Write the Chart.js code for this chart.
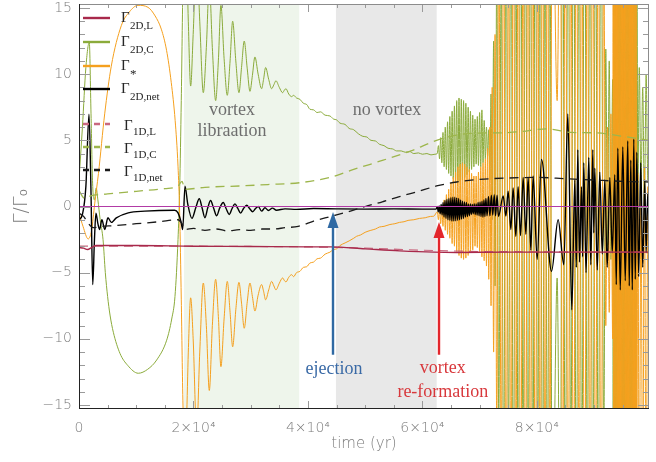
<!DOCTYPE html>
<html><head><meta charset="utf-8">
<script src="https://cdn.jsdelivr.net/npm/chart.js@4.4.1/dist/chart.umd.min.js"></script>
<style>html,body{margin:0;padding:0;background:#fff;}#wrap{width:656px;height:462px;}</style>
</head><body><div id="wrap"><canvas id="c" width="656" height="462"></canvas></div>
<script>
// ---------------- data (time in yr, torque in units of Gamma_0) ----------------
const xTickValues = [0, 20000, 40000, 60000, 80000];
const xTickLabels = ['0', '2×10⁴', '4×10⁴', '6×10⁴', '8×10⁴'];
const yTickValues = [-15, -10, -5, 0, 5, 10, 15];
const yTickLabels = ['−15', '−10', '−5', '0', '5', '10', '15'];

const legendSubs = ['2D,L', '2D,C', '*', '2D,net', '1D,L', '1D,C', '1D,net'];

const bandStart = [18340, 44900];
const bandEnd = [38480, 62500];
const bandText = [['vortex', 'libraation'], ['no vortex']];
const bandTextT = [26720, 53800];
const bandTextY = [[7.3, 5.65], [7.3]];

const arrowT = [44310, 62880];
const arrowBase = [-11.2, -11.2];
const arrowTip = [-0.42, -1.17];
const arrowText = [['ejection'], ['vortex', 're-formation']];
const arrowTextT = [44540, 63580];
const arrowTextY = [[-12.3], [-12.25, -14.0]];

const zeroT = [0, 99600];
const zeroV = [0, 0];

// Gamma_2D,L
const tL2D = [0, 800, 1500, 2200, 3000, 10000, 20000, 30000, 40000, 44000, 50000, 56000, 62000, 66000, 75000, 85000, 99600];
const vL2D = [-3.1, -3.15, -3.25, -3.1, -2.95, -2.95, -3.0, -3.02, -3.05, -3.05, -3.2, -3.35, -3.45, -3.47, -3.45, -3.45, -3.45];
// Gamma_1D,L
const tL1D = [0, 10000, 20000, 30000, 40000, 50000, 60000, 70000, 80000, 90000, 99600];
const vL1D = [-3.0, -3.0, -3.0, -3.02, -3.05, -3.15, -3.3, -3.4, -3.42, -3.43, -3.45];
// Gamma_1D,C
const tC1D = [0, 1000, 1920, 5000, 10000, 15000, 17300, 18000, 18500, 22000, 28000, 33000, 38600, 43850, 48000, 53150, 58000, 62480, 66000, 70000, 73000, 77000, 81700, 86000, 90400, 95000, 99600];
const vC1D = [1.2, 0.6, 0.78, 0.95, 1.15, 1.35, 1.55, 1.9, 1.3, 1.45, 1.55, 1.66, 1.8, 2.2, 2.8, 3.5, 4.2, 5.0, 5.4, 5.55, 5.56, 5.65, 5.87, 5.6, 5.56, 5.3, 5.0];
// Gamma_1D,net
const tN1D = [0, 800, 1500, 2500, 4000, 6000, 10000, 14000, 17300, 18000, 18520, 20000, 22000, 24000, 26000, 28000, 30000, 32000, 34000, 36000, 38300, 41000, 44000, 47000, 50000, 53000, 56000, 59000, 62480, 66000, 70000, 75000, 80000, 85000, 90000, 95000, 99600];
const vN1D = [-0.5, -0.75, -1.2, -1.6, -1.5, -1.45, -1.3, -1.15, -1.0, -1.3, -1.74, -1.65, -1.8, -1.7, -1.85, -1.75, -1.8, -1.7, -1.7, -1.6, -1.5, -1.1, -0.75, -0.4, 0.0, 0.35, 0.75, 1.1, 1.55, 1.85, 2.05, 2.15, 2.2, 2.1, 2.0, 1.9, 1.85];

// Gamma_2D,C (before the oscillating phase)
const tC2D = [0, 600, 1200, 1800, 2100, 2400, 2700, 3000, 3300, 3700, 4200, 4600, 5000, 5420, 6000, 7160, 8500, 10360, 12000, 13570, 15320, 16200, 16770, 17300, 17600, 17870, 18170, 18450, 18800, 19100, 19510, 19950, 20560, 21100, 21720, 22250, 22770, 23300, 23880, 24350, 24800, 25350, 25910, 26400, 26850, 27400, 27950, 28400, 28870, 29400, 29870, 30300, 30740, 31300, 31910, 32250, 32610, 33150, 33660, 34050, 34410, 35000, 35580, 35900, 36160, 36650, 37150, 37500, 38000, 38600, 39200, 39800, 40350, 41000, 41600, 42200, 43000, 43850, 44500, 45000, 45600, 46500, 47200, 48000, 48800, 49600, 50300, 51000, 51800, 52500, 53300, 54000, 54800, 55500, 56300, 57000, 57800, 58500, 59300, 60000, 60800, 61500, 62200, 62600];
const vC2D = [2.0, 6.0, 10.5, 12.4, 7.0, 1.5, 0.5, 1.4, 0.5, -1.0, -2.5, -5.0, -6.8, -8.2, -9.5, -11.1, -12.0, -12.6, -12.3, -11.6, -10.1, -8.5, -6.8, -2.5, 1.5, 8.0, 17, 21, 19, 14, 9.1, 13, 19, 14, 8.6, 12, 16.9, 12, 8.0, 11, 15.2, 11.2, 8.4, 11, 14.0, 11, 8.6, 10.5, 12.5, 10.4, 8.7, 9.9, 11.3, 10, 8.9, 9.6, 10.5, 9.6, 8.9, 9.2, 9.5, 9.0, 8.6, 8.8, 8.9, 8.5, 8.3, 8.4, 8.2, 8.1, 7.8, 7.7, 7.35, 7.3, 7.1, 7.15, 6.9, 6.84, 6.6, 6.55, 6.3, 6.2, 5.9, 5.8, 5.5, 5.3, 5.25, 5.0, 4.95, 4.7, 4.6, 4.4, 4.35, 4.2, 4.2, 4.1, 4.15, 4.0, 4.05, 3.95, 4.0, 3.9, 3.95, 4.0];

// Gamma_* (before the oscillating phase)
const tS = [0, 700, 1600, 2200, 2740, 3400, 4490, 5640, 7390, 8800, 10310, 12050, 13300, 14380, 15300, 16120, 16800, 17300, 17590, 17870, 18170, 18450, 18800, 19100, 19510, 19950, 20560, 21100, 21720, 22250, 22770, 23300, 23880, 24350, 24800, 25350, 25910, 26400, 26850, 27400, 27950, 28400, 28870, 29400, 29870, 30300, 30740, 31300, 31910, 32250, 32610, 33150, 33660, 34050, 34410, 35000, 35580, 35900, 36160, 36650, 37150, 37500, 38000, 38600, 39200, 39800, 40350, 41000, 41600, 42200, 43000, 43850, 44430, 45000, 45600, 46500, 47200, 48000, 48510, 49200, 50000, 51000, 51800, 52500, 53300, 54330, 55200, 56000, 56800, 57500, 58500, 59500, 60500, 61400, 62000, 62600];
const vS = [-0.5, -1.5, -2.45, -1.8, 0.2, 2.5, 7.0, 10.6, 13.66, 14.7, 15.2, 15.05, 14.4, 13.4, 11.8, 9.37, 6.5, 3.05, -0.5, -7, -15, -18, -16, -11, -6.9, -10, -17, -11, -5.78, -9, -13.9, -9, -5.5, -8.3, -12.1, -8.5, -5.66, -8, -10.6, -7.8, -5.73, -7.3, -9.2, -7.2, -5.78, -6.8, -7.9, -6.7, -5.9, -6.4, -7.05, -6.3, -5.66, -6.0, -6.3, -5.8, -5.4, -5.6, -5.7, -5.35, -5.15, -5.3, -5.0, -4.9, -4.6, -4.55, -4.27, -4.2, -3.95, -3.9, -3.6, -3.45, -3.26, -3.2, -2.95, -2.75, -2.6, -2.4, -2.25, -2.15, -1.95, -1.8, -1.7, -1.55, -1.5, -1.36, -1.3, -1.2, -1.15, -1.05, -1.0, -0.9, -0.85, -0.75, -0.73, -0.4];

// vortex re-formation phase: common times for Gamma_* and Gamma_2D,C
const tWild = [62800, 63000, 63200, 63400, 63600, 63800, 64000, 64200, 64400, 64600, 64800, 65000, 65200, 65400, 65600, 65800, 66000, 66200, 66400, 66600, 66800, 67000, 67200, 67400, 67600, 67800, 68000, 68200, 68400, 68600, 68800, 69000, 69200, 69400, 69600, 69800, 70000, 70200, 70400, 70600, 70800, 71000, 71200, 71400, 71600, 71800, 72000, 72200, 72450, 72700, 73000, 73350,
  73780, 74200, 74620, 75050, 75480, 75900, 76330, 76750, 77180, 77600, 78030, 78450, 78880, 79300, 79730, 80150, 80580, 81000, 81430, 81850, 82280, 82700, 83550, 84100,
  84500, 84980, 85460, 85940, 86420, 86900, 87380, 87860, 88340, 88820, 89300, 89780, 90260, 90740, 91220, 91700, 92050, 92350, 92650, 92950, 93250,
  93350, 93450, 93550, 93650, 93750, 93850, 93950, 94050, 94150, 94250, 94350, 94450, 94550, 94650, 94750, 94850, 94950, 95050, 95150, 95250, 95350, 95450, 95550, 95650, 95750, 95850, 95950, 96050, 96150, 96250, 96350, 96450, 96550, 96650, 96750, 96850, 96950, 97050, 97150, 97250, 97350, 97450,
  97650, 97900, 98200, 98500, 98800, 99100, 99400, 99600];
const vSWild = [-1.0, -0.2, -1.3, 0.1, -1.5, 0.5, -1.8, 0.9, -2.1, 1.3, -2.4, 1.8, -2.8, 2.2, -3.0, 2.6, -3.4, 3.0, -3.7, 3.2, -3.9, 3.3, -4.0, 3.2, -3.9, 3.0, -3.7, 2.8, -3.5, 2.5, -3.3, 2.3, -3.0, 2.3, -3.1, 2.6, -3.4, 3.0, -3.8, 3.3, -4.1, 3.6, -4.5, 4.4, -5.5, 6.0, -7.5, 9.0, -11, 13, -17, 22,
  -20, 24, -26, 20, -24, 26, -22, 25, -27, 23, -25, 28, -22, 24, -26, 22, -24, 26, -23, 25, -20, 27, 8.0, 28,
  -24, 25, -26, 22, -25, 27, -22, 24, -27, 23, -24, 26, -22, 25, -26, 20, -9, 6, -8, 7, -10,
  25, -25, 26, -24, 24, -26, 25, -23, 27, -25, 24, -26, 25, -24, 26, -25, 23, -27, 25, -24, 26, -25, 24, -26, 25, -23, 27, -25, 24, -26, 25, -24, 26, -25, 23, -27, 25, -24, 26, -25, 24, -26,
  2.5, -25, 1.0, -24, 3.0, -25, 1.5, -20];
const vCWild = [4.6, 3.6, 5.2, 3.3, 5.6, 3.0, 6.0, 2.8, 6.4, 2.5, 6.8, 2.3, 7.2, 2.1, 7.6, 2.0, 8.0, 1.9, 8.2, 1.9, 8.1, 2.0, 8.0, 2.2, 7.8, 2.4, 7.5, 2.6, 7.2, 2.8, 6.9, 3.0, 6.6, 3.2, 6.8, 3.1, 7.1, 3.0, 7.3, 3.3, 6.5, 3.6, 6.0, 3.8, 5.8, 2.0, 8.5, -1.0, 12.5, -6, 18, -16,
  18, -22, 24, -18, 26, -24, 22, -23, 27, -20, 25, -26, 24, -22, 26, -20, 25, -24, 23, -23, 22, -27, -5.4, -27,
  26, -23, 27, -20, 26, -24, 24, -22, 28, -21, 25, -24, 23, -22, 27, -18, 11.9, -3, 11, -4, 9.6,
  -22, 28, -23, 27, -21, 29, -22, 26, -24, 28, -21, 29, -22, 27, -23, 28, -20, 30, -22, 27, -23, 28, -21, 29, -22, 26, -24, 28, -21, 29, -22, 27, -23, 28, -20, 30, -22, 27, -23, 28, -21, 29,
  0.5, 10.5, 1.5, 9.0, 0.0, 10.0, 2.0, 8.0];

// Gamma_2D,net
const tN2D = [0, 600, 1200, 1750, 2100, 2400, 2700, 2960, 3300, 3600, 4000, 4500, 5060, 5640, 6520, 8600, 11500, 16700, 17300, 17800, 18120, 18520, 19000, 19740, 20400, 21020, 21500, 22010, 22500, 23000, 23500, 24050, 24600, 25210, 25700, 26260, 26750, 27250, 27750, 28250, 28750, 29300, 29800, 30350, 30850, 31330, 31900, 32500, 33100, 33800, 34500, 36000, 38000, 41000, 45000, 50000, 55000, 60000, 62400,
  62600, 62770, 62940, 63110, 63280, 63450, 63620, 63790, 63960, 64130, 64300, 64470, 64640, 64810, 64980, 65150, 65320, 65490, 65660, 65830, 66000, 66170, 66340, 66510, 66680, 66850, 67020, 67190, 67360, 67530, 67700, 67870, 68040, 68210, 68380, 68550, 68720, 68890, 69060, 69230, 69400, 69570, 69740, 69910, 70080, 70250, 70420, 70590, 70760, 70930, 71100, 71300, 71550, 71800, 72050, 72300, 72550, 72800, 73050, 73300,
  74120, 74590, 74990, 75460, 75860, 76330, 76730, 77150, 77610, 78080, 78480, 78950, 79350, 80060, 80810, 82570, 83720, 84720, 85410, 86110,
  86640, 86900, 87160, 87450, 87800, 88000, 88200, 88600, 89080, 89430, 89780, 89950, 90130, 90560, 91000, 91440, 91880, 92300, 92750, 93180, 93620, 93880, 94150, 94580, 95020, 95450, 95890, 96150, 96420, 96680, 96940, 97200, 97470, 97800, 98160, 98500, 98860, 99100, 99380, 99600];
const vN2D = [-1.0, -0.6, 1.5, 6.97, 1.0, -5.9, -2.5, -0.5, -1.3, -1.74, -1.0, -1.74, -0.85, -1.2, -0.86, -0.48, -0.35, -0.28, -0.48, -1.1, -1.74, 1.54, 0.2, -0.9, -0.1, 0.58, -0.1, -0.85, -0.1, 0.45, -0.1, -0.7, -0.1, 0.3, -0.15, -0.6, -0.15, 0.2, -0.15, -0.5, -0.15, 0.1, -0.15, -0.4, -0.15, 0.0, -0.35, -0.1, -0.3, -0.12, -0.28, -0.18, -0.22, -0.15, -0.18, -0.2, -0.18, -0.2, -0.2,
  0.0, -0.4, 0.05, -0.55, 0.15, -0.65, 0.3, -0.8, 0.45, -0.9, 0.55, -1.0, 0.6, -1.05, 0.66, -1.1, 0.7, -1.1, 0.7, -1.08, 0.65, -1.05, 0.6, -1.0, 0.5, -0.95, 0.4, -0.9, 0.35, -0.8, 0.3, -0.75, 0.2, -0.7, 0.2, -0.6, 0.15, -0.55, 0.2, -0.6, 0.2, -0.65, 0.3, -0.7, 0.35, -0.75, 0.4, -0.8, 0.5, -0.75, 0.6, -0.7, 0.75, -0.7, 0.85, -0.65, 0.9, -0.7, 0.85, -0.75,
  0.8, -0.73, 1.16, -1.74, 1.4, -2.25, 1.5, -2.2, 2.2, -2.1, 2.2, -3.3, 2.3, -4.0, 3.56, -4.9, -1.0, -4.4, 7.0, -7.8,
  2.0, -4.6, 4.3, -4.2, 1.5, -3.8, 3.3, -5.0, 3.7, -4.4, 4.3, -2.0, 2.9, -4.8, 2.6, -3.6, 2.0, -4.6, 2.2, -3.5, 2.4, -5.9, 4.4, -6.3, 4.5, -5.6, 4.95, -6.0, 3.5, -6.3, 5.1, -5.5, 4.1, -5.3, 3.3, -4.6, 2.0, -3.5, 1.0, -1.5];

// ---------------- chart ----------------
const pts = (t, v) => t.map((x, i) => ({x: x, y: v[i]}));
const SERIF = '"Liberation Serif", "DejaVu Serif", serif';
const SANS = '"DejaVu Sans", sans-serif';
const AXIS_GRAY = '#7c7c7c';

const datasets = [
  {label: 'zero', data: pts(zeroT, zeroV), borderColor: '#b23aa6', borderWidth: 1.2},
  {label: 'Γ2D,L', data: pts(tL2D, vL2D), borderColor: '#a8294b', borderWidth: 1.4},
  {label: 'Γ1D,L', data: pts(tL1D, vL1D), borderColor: '#c9687f', borderWidth: 1.2, borderDash: [9, 6]},
  {label: 'Γ1D,net', data: pts(tN1D, vN1D), borderColor: '#1a1a1a', borderWidth: 1.3, borderDash: [9, 6]},
  {label: 'Γ1D,C', data: pts(tC1D, vC1D), borderColor: '#9db64c', borderWidth: 1.3, borderDash: [9, 6]},
  {label: 'Γ2D,net', data: pts(tN2D, vN2D), borderColor: '#000000', borderWidth: 1.4},
  {label: 'Γ*', data: pts(tS.concat(tWild), vS.concat(vSWild)), borderColor: '#f5a01e', borderWidth: 1},
  {label: 'Γ2D,C', data: pts(tC2D.concat(tWild), vC2D.concat(vCWild)), borderColor: '#8bab3b', borderWidth: 1}
];
datasets.forEach(d => { d.clip = 0; d.fill = false; d.pointRadius = 0; });
// legend entries -> dataset index
const legendDs = [1, 7, 6, 5, 2, 4, 3];

const deco = {
  id: 'deco',
  beforeDatasetsDraw(chart) {
    const {ctx, chartArea: a, scales: {x}} = chart;
    ctx.save();
    const fills = ['#eef5eb', '#e8e8e8'];
    for (let i = 0; i < bandStart.length; i++) {
      const x0 = x.getPixelForValue(bandStart[i]), x1 = x.getPixelForValue(bandEnd[i]);
      ctx.fillStyle = fills[i];
      ctx.fillRect(x0, a.top, x1 - x0, a.bottom - a.top);
    }
    ctx.restore();
  },
  afterDatasetsDraw(chart) {
    const {ctx, chartArea: a, scales: {x, y}} = chart;
    ctx.save();
    // band labels
    ctx.font = '18px ' + SERIF;
    ctx.fillStyle = '#6e6e6e';
    ctx.textAlign = 'center';
    ctx.textBaseline = 'middle';
    bandText.forEach((lines, i) => lines.forEach((s, j) => {
      ctx.fillText(s, x.getPixelForValue(bandTextT[i]), y.getPixelForValue(bandTextY[i][j]));
    }));
    // arrows
    const arrowCols = ['#2f69a3', '#e3262c'];
    const textCols = ['#3a6aa6', '#d8383c'];
    arrowT.forEach((t, i) => {
      const px = Math.round(x.getPixelForValue(t));
      const yb = y.getPixelForValue(arrowBase[i]);
      const yt = y.getPixelForValue(arrowTip[i]);
      ctx.strokeStyle = arrowCols[i];
      ctx.fillStyle = arrowCols[i];
      ctx.lineWidth = 2.4;
      ctx.beginPath(); ctx.moveTo(px, yb); ctx.lineTo(px, yt + 12); ctx.stroke();
      ctx.beginPath(); ctx.moveTo(px, yt); ctx.lineTo(px - 5.5, yt + 16); ctx.lineTo(px + 5.5, yt + 16); ctx.closePath(); ctx.fill();
      ctx.fillStyle = textCols[i];
      arrowText[i].forEach((s, j) => ctx.fillText(s, x.getPixelForValue(arrowTextT[i]), y.getPixelForValue(arrowTextY[i][j])));
    });
    // ticks inside the frame
    ctx.strokeStyle = '#9a9a9a';
    ctx.lineWidth = 1;
    ctx.beginPath();
    for (let v = Math.ceil(y.min); v <= y.max; v += 1) {
      const py = Math.round(y.getPixelForValue(v)) + 0.5;
      const L = (v % 5 === 0) ? 11 : 6;
      ctx.moveTo(a.left, py); ctx.lineTo(a.left + L, py);
      ctx.moveTo(a.right, py); ctx.lineTo(a.right - L, py);
    }
    for (let v = 0; v <= x.max; v += 5000) {
      const px = Math.round(x.getPixelForValue(v)) + 0.5;
      const L = (v % 20000 === 0) ? 8 : 4;
      ctx.moveTo(px, a.bottom); ctx.lineTo(px, a.bottom - L);
      ctx.moveTo(px, a.top); ctx.lineTo(px, a.top + L);
    }
    ctx.stroke();
    // frame
    ctx.strokeStyle = '#8c8c8c';
    ctx.beginPath();
    ctx.moveTo(a.left, a.top + 0.5); ctx.lineTo(a.right, a.top + 0.5);
    ctx.moveTo(a.right - 0.5, a.top); ctx.lineTo(a.right - 0.5, a.bottom);
    ctx.stroke();
    ctx.strokeStyle = '#222';
    ctx.beginPath();
    ctx.moveTo(a.left + 0.5, a.top); ctx.lineTo(a.left + 0.5, a.bottom);
    ctx.moveTo(a.left, a.bottom - 0.5); ctx.lineTo(a.right, a.bottom - 0.5);
    ctx.stroke();
    // legend
    const ly = [18, 42, 66, 89, 124, 147, 170];
    legendSubs.forEach((sub, k) => {
      const ds = chart.data.datasets[legendDs[k]];
      const dashed = !!ds.borderDash;
      ctx.strokeStyle = ds.borderColor;
      ctx.lineWidth = 2.4;
      ctx.setLineDash(dashed ? [6, 5] : []);
      ctx.beginPath(); ctx.moveTo(83, ly[k]); ctx.lineTo(110, ly[k]); ctx.stroke();
      ctx.setLineDash([]);
      ctx.fillStyle = '#262626';
      ctx.textAlign = 'left';
      ctx.textBaseline = 'alphabetic';
      const gx = dashed ? 124 : 121;
      ctx.font = '15px ' + SERIF;
      ctx.fillText('Γ', gx, ly[k] + (dashed ? 6 : 4));
      ctx.font = (sub === '*' ? '13px ' : '11px ') + SERIF;
      ctx.fillText(sub, gx + 9, ly[k] + (sub === '*' ? 12 : 10.5));
    });
    ctx.restore();
  }
};

new Chart(document.getElementById('c').getContext('2d'), {
  type: 'line',
  data: {datasets: datasets},
  options: {
    responsive: false,
    animation: false,
    devicePixelRatio: 1,
    layout: {padding: {top: 4, right: 7, left: 0, bottom: 0}, autoPadding: false},
    elements: {point: {radius: 0}, line: {tension: 0, cubicInterpolationMode: 'monotone'}},
    plugins: {legend: {display: false}, tooltip: {enabled: false}, title: {display: false}},
    scales: {
      x: {
        type: 'linear', min: 0, max: 99600,
        grid: {display: false, drawTicks: false}, border: {display: false},
        afterBuildTicks: s => { s.ticks = xTickValues.map(v => ({value: v})); },
        afterFit: s => { s.height = 53; s.paddingLeft = 0; s.paddingRight = 0; },
        ticks: {autoSkip: false, maxRotation: 0, padding: 11, color: AXIS_GRAY,
          font: {family: SANS, size: 14, weight: '200'},
          callback: v => xTickLabels[xTickValues.indexOf(v)]},
        title: {display: true, text: 'time (yr)', color: AXIS_GRAY,
          font: {family: SANS, size: 15, weight: '200'}, padding: {top: 0, bottom: 9}}
      },
      y: {
        type: 'linear', min: -15.3, max: 15.3,
        grid: {display: false, drawTicks: false}, border: {display: false},
        afterBuildTicks: s => { s.ticks = yTickValues.map(v => ({value: v})); },
        afterFit: s => { s.width = 79; s.paddingTop = 0; s.paddingBottom = 0; },
        ticks: {autoSkip: false, padding: 7, color: AXIS_GRAY,
          font: {family: SANS, size: 14, weight: '200'},
          callback: v => yTickLabels[yTickValues.indexOf(v)]},
        title: {display: true, text: 'Γ/Γ₀', color: AXIS_GRAY,
          font: {family: SANS, size: 19, weight: '200'}, padding: {top: 11, bottom: 0}}
      }
    }
  },
  plugins: [deco]
});
</script>
</body></html>
